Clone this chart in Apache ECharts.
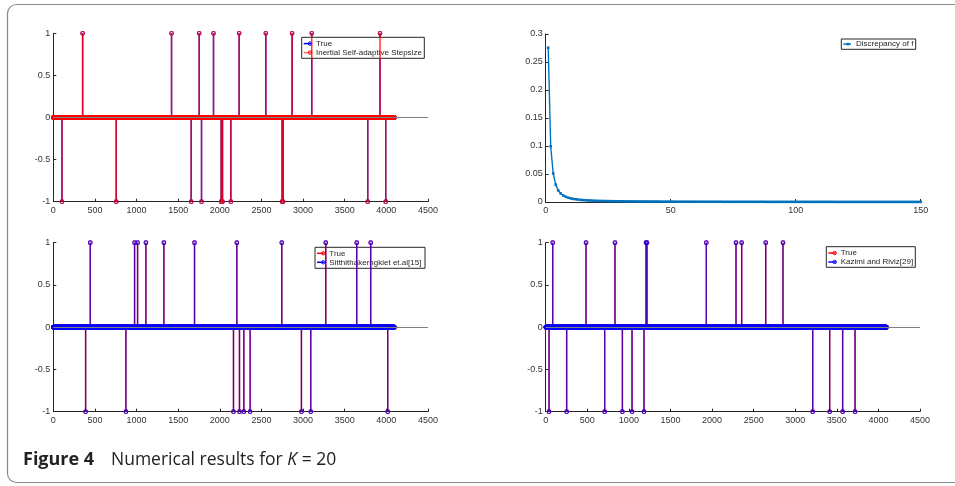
<!DOCTYPE html>
<html><head><meta charset="utf-8">
<script src="https://cdn.jsdelivr.net/npm/echarts@6/dist/echarts.min.js"></script>
<style>html,body{margin:0;padding:0;background:#fff}#c{width:955px;height:486px}</style>
</head><body><div id="c"></div>
<script>
// ---------------- DATA ----------------
const N = 4096; // signal length (indices 1..N)
// Panel 1 (top-left): True vs Inertial Self-adaptive Stepsize
const p1TrueIdx = [104, 352, 756, 1420, 1656, 1752, 1780, 1924, 2016, 2032, 2132, 2232, 2552, 2748, 2760, 2868, 3104, 3776, 3924, 3992];
const p1TrueVal = [-1, 1, -1, 1, -1, 1, -1, 1, -1, -1, -1, 1, 1, -1, -1, 1, 1, -1, 1, -1];
const p1EstIdx  = [104, 352, 756, 1420, 1656, 1752, 1780, 1924, 2016, 2032, 2132, 2232, 2552, 2748, 2760, 2868, 3104, 3776, 3924, 3992];
const p1EstVal  = [-1, 1, -1, 1, -1, 1, -1, 1, -1, -1, -1, 1, 1, -1, -1, 1, 1, -1, 1, -1];
// Panel 3 (bottom-left): True vs Sitthithakerngkiet et.al[15]
const p3TrueIdx = [388, 444, 872, 976, 1012, 1112, 1328, 1696, 2164, 2204, 2236, 2288, 2364, 2744, 2980, 3092, 3272, 3644, 3812, 4016];
const p3TrueVal = [-1, 1, -1, 1, 1, 1, 1, 1, -1, 1, -1, -1, -1, 1, -1, -1, 1, 1, 1, -1];
const p3EstIdx  = [388, 444, 872, 976, 1012, 1112, 1328, 1696, 2164, 2204, 2236, 2288, 2364, 2744, 2980, 3092, 3272, 3644, 3812, 4016];
const p3EstVal  = [-1, 1, -1, 1, 1, 1, 1, 1, -1, 1, -1, -1, -1, 1, -1, -1, 1, 1, 1, -1];
// Panel 4 (bottom-right): True vs Kazimi and Riviz[29]
const p4TrueIdx = [40, 84, 252, 485, 709, 833, 922, 1038, 1182, 1206, 1218, 1931, 2288, 2356, 2645, 2853, 3210, 3414, 3570, 3719];
const p4TrueVal = [-1, 1, -1, 1, -1, 1, -1, -1, -1, 1, 1, 1, 1, 1, 1, 1, -1, -1, -1, -1];
const p4EstIdx  = [40, 84, 252, 485, 709, 833, 922, 1038, 1182, 1206, 1218, 1931, 2288, 2356, 2645, 2853, 3210, 3414, 3570, 3719];
const p4EstVal  = [-1, 1, -1, 1, -1, 1, -1, -1, -1, 1, 1, 1, 1, 1, 1, 1, -1, -1, -1, -1];
// Panel 2 (top-right): Discrepancy of f, iterations 1..150
const p2Iter = [];
for (let k = 1; k <= 150; k++) p2Iter.push(k);
const p2Disc = [
 0.2755, 0.0995, 0.0510, 0.0310, 0.0208, 0.0152, 0.0117, 0.0094, 0.0077, 0.0065,
 0.0056, 0.0049, 0.0043, 0.0038, 0.0034, 0.0031, 0.0028, 0.0026, 0.0024, 0.0022,
 0.0020, 0.0019, 0.0018, 0.0017, 0.0016, 0.0015, 0.0014, 0.0013, 0.0013, 0.0012,
 0.0012, 0.0011, 0.0011, 0.0010, 0.0010, 0.0010, 0.0009, 0.0009, 0.0009, 0.0009,
 0.0008, 0.0008, 0.0008, 0.0008, 0.0008, 0.0007, 0.0007, 0.0007, 0.0007, 0.0007,
 0.0007, 0.0006, 0.0006, 0.0006, 0.0006, 0.0006, 0.0006, 0.0006, 0.0006, 0.0005,
 0.0005, 0.0005, 0.0005, 0.0005, 0.0005, 0.0005, 0.0005, 0.0005, 0.0005, 0.0005,
 0.0004, 0.0004, 0.0004, 0.0004, 0.0004, 0.0004, 0.0004, 0.0004, 0.0004, 0.0004,
 0.0004, 0.0004, 0.0004, 0.0004, 0.0004, 0.0004, 0.0004, 0.0003, 0.0003, 0.0003,
 0.0003, 0.0003, 0.0003, 0.0003, 0.0003, 0.0003, 0.0003, 0.0003, 0.0003, 0.0003,
 0.0003, 0.0003, 0.0003, 0.0003, 0.0003, 0.0003, 0.0003, 0.0003, 0.0003, 0.0003,
 0.0003, 0.0003, 0.0003, 0.0003, 0.0003, 0.0002, 0.0002, 0.0002, 0.0002, 0.0002,
 0.0002, 0.0002, 0.0002, 0.0002, 0.0002, 0.0002, 0.0002, 0.0002, 0.0002, 0.0002,
 0.0002, 0.0002, 0.0002, 0.0002, 0.0002, 0.0002, 0.0002, 0.0002, 0.0002, 0.0002,
 0.0002, 0.0002, 0.0002, 0.0002, 0.0002, 0.0002, 0.0002, 0.0002, 0.0002, 0.0002
];
const stemXTicks = { min: 0, max: 4500, interval: 500 };
const stemYTicks = { min: -1, max: 1, interval: 0.5 };
const discXTicks = { min: 0, max: 150, interval: 50 };
const discYTicks = { min: 0, max: 0.3, interval: 0.05 };
const legendTexts = {
  p1: ['True', 'Inertial Self-adaptive Stepsize'],
  p2: ['Discrepancy of f'],
  p3: ['True', 'Sitthithakerngkiet et.al[15]'],
  p4: ['True', 'Kazimi and Riviz[29]']
};
const captionBold = 'Figure 4';
const captionPre = 'Numerical results for ';
const captionVar = 'K';
const captionPost = ' = 20';

// ---------------- STYLE ----------------
const AX = '#262626';
const FONT = 'Liberation Sans';
const BLUE = '#0000ff', RED = '#ff0000', MBLUE = '#0072BD';

const grids = [
  { left: 53.3, top: 33.3, width: 374.7, height: 168.4 },
  { left: 545.7, top: 34, width: 375, height: 168 },
  { left: 53.3, top: 242.7, width: 374.7, height: 169 },
  { left: 545.7, top: 242.7, width: 374.3, height: 169 }
];

function mkAxis(type, gi, t) {
  return {
    type: 'value', gridIndex: gi, min: t.min, max: t.max, interval: t.interval,
    axisLine: { show: true, onZero: false, lineStyle: { color: AX, width: 1 } },
    axisTick: { show: true, inside: true, length: 3, lineStyle: { color: AX, width: 1 } },
    axisLabel: { color: '#333', fontSize: 9, fontFamily: FONT, margin: type === 'x' ? 4 : 3,
      formatter: function (v) { return String(+v.toFixed(4)); } },
    splitLine: { show: false }
  };
}

function fullSignal(idx, val) {
  const arr = [];
  for (let i = 1; i <= N; i++) arr.push([i, 0]);
  idx.forEach((p, k) => { arr[p - 1] = [p, val[k]]; });
  return arr;
}

function stemSeries(gi, idx, val, color, stemOpacity, withBaseline) {
  const sparse = idx.map((p, k) => [p, val[k]]);
  const stems = {
    type: 'custom', xAxisIndex: gi, yAxisIndex: gi, data: sparse, silent: true,
    renderItem: function (params, api) {
      const x = api.value(0), y = api.value(1);
      const a = api.coord([x, 0]), b = api.coord([x, y]);
      return { type: 'line', shape: { x1: a[0], y1: a[1], x2: b[0], y2: b[1] },
        style: { stroke: color, lineWidth: 1.4, opacity: stemOpacity } };
    }
  };
  const markers = {
    type: 'scatter', xAxisIndex: gi, yAxisIndex: gi, data: fullSignal(idx, val),
    symbol: 'circle', symbolSize: 3.6, silent: true, progressive: 0, large: false,
    itemStyle: { color: 'rgba(0,0,0,0)', borderColor: color, borderWidth: 1.1 }
  };
  const out = [];
  if (withBaseline) {
    out.push({
      type: 'line', xAxisIndex: gi, yAxisIndex: gi, data: [], silent: true,
      markLine: { silent: true, symbol: 'none', label: { show: false }, animation: false,
        lineStyle: { color: '#808080', width: 1.2, type: 'solid' }, data: [{ yAxis: 0 }] }
    });
  }
  out.push(stems, markers);
  return out;
}

const series = [];
series.push(...stemSeries(0, p1TrueIdx, p1TrueVal, BLUE, 1, true));
series.push(...stemSeries(0, p1EstIdx, p1EstVal, RED, 0.85, false));
series.push(...stemSeries(2, p3TrueIdx, p3TrueVal, RED, 1, true));
series.push(...stemSeries(2, p3EstIdx, p3EstVal, BLUE, 0.65, false));
series.push(...stemSeries(3, p4TrueIdx, p4TrueVal, RED, 1, true));
series.push(...stemSeries(3, p4EstIdx, p4EstVal, BLUE, 0.65, false));
series.push({
  type: 'line', xAxisIndex: 1, yAxisIndex: 1, silent: true,
  data: p2Iter.map((x, i) => [x, p2Disc[i]]),
  symbol: 'rect', symbolSize: 2.6, showSymbol: true,
  lineStyle: { color: MBLUE, width: 1.4 }, itemStyle: { color: MBLUE }
});

// ---------------- LEGENDS (graphic) ----------------
function legend(x, y, w, h, textX, rows) {
  const els = [{ type: 'rect', shape: { x: x, y: y, width: w, height: h },
    style: { fill: '#fff', stroke: AX, lineWidth: 1 }, z: 100 }];
  rows.forEach(r => {
    els.push({ type: 'line', shape: { x1: x + 2, y1: r.y, x2: textX - 5, y2: r.y },
      style: { stroke: r.color, lineWidth: 1.5, opacity: r.op || 1 }, z: 101 });
    if (r.marker === 'rect') {
      els.push({ type: 'rect', shape: { x: r.mx - 1.3, y: r.y - 1.3, width: 2.6, height: 2.6 },
        style: { fill: r.color }, z: 102 });
    } else {
      els.push({ type: 'circle', shape: { cx: textX - 6, cy: r.y, r: 1.7 },
        style: { fill: 'none', stroke: r.color, lineWidth: 1 }, z: 102 });
    }
    els.push({ type: 'text', style: { x: textX, y: r.y, text: r.text, fill: AX,
      font: '8px "' + FONT + '"', verticalAlign: 'middle', align: 'left' }, z: 103 });
  });
  return els;
}

const graphics = [];
graphics.push({ type: 'rect', shape: { x: 7.5, y: 4.5, width: 975, height: 478, r: 9 },
  style: { fill: 'none', stroke: '#8a8a8a', lineWidth: 1.2 }, z: 0 });
graphics.push(...legend(301.7, 37.3, 122.6, 21, 316, [
  { y: 43.6, text: legendTexts.p1[0], color: BLUE },
  { y: 52.6, text: legendTexts.p1[1], color: RED, op: 0.6 }
]));
graphics.push(...legend(841.3, 39, 74.4, 10.3, 856, [
  { y: 44.1, text: legendTexts.p2[0], color: MBLUE, marker: 'rect', mx: 848 }
]));
graphics.push(...legend(315, 247.3, 110, 21, 329.3, [
  { y: 253.3, text: legendTexts.p3[0], color: RED },
  { y: 262.3, text: legendTexts.p3[1], color: BLUE }
]));
graphics.push(...legend(826.3, 246.7, 89, 20.6, 840.7, [
  { y: 253.0, text: legendTexts.p4[0], color: RED },
  { y: 262.0, text: legendTexts.p4[1], color: BLUE }
]));
graphics.push({ type: 'text', z: 10, style: {
  x: 23, y: 460, verticalAlign: 'middle', align: 'left', text: captionBold,
  font: 'bold 18px "Open Sans"', fill: '#222' } });
graphics.push({ type: 'text', z: 10, style: {
  x: 111, y: 460, verticalAlign: 'middle', align: 'left',
  text: '{r|' + captionPre + '}{i|' + captionVar + '}{r|' + captionPost + '}',
  rich: {
    r: { fontFamily: 'Open Sans', fontSize: 17.5, fill: '#222' },
    i: { fontFamily: 'Open Sans', fontStyle: 'italic', fontSize: 17.5, fill: '#222' }
  }
}});

const option = {
  backgroundColor: '#fff',
  animation: false,
  grid: grids,
  xAxis: [mkAxis('x', 0, stemXTicks), mkAxis('x', 1, discXTicks), mkAxis('x', 2, stemXTicks), mkAxis('x', 3, stemXTicks)],
  yAxis: [mkAxis('y', 0, stemYTicks), mkAxis('y', 1, discYTicks), mkAxis('y', 2, stemYTicks), mkAxis('y', 3, stemYTicks)],
  series: series,
  graphic: graphics
};
const chart = echarts.init(document.getElementById('c'), null, { renderer: 'canvas' });
chart.setOption(option);
</script></body></html>
